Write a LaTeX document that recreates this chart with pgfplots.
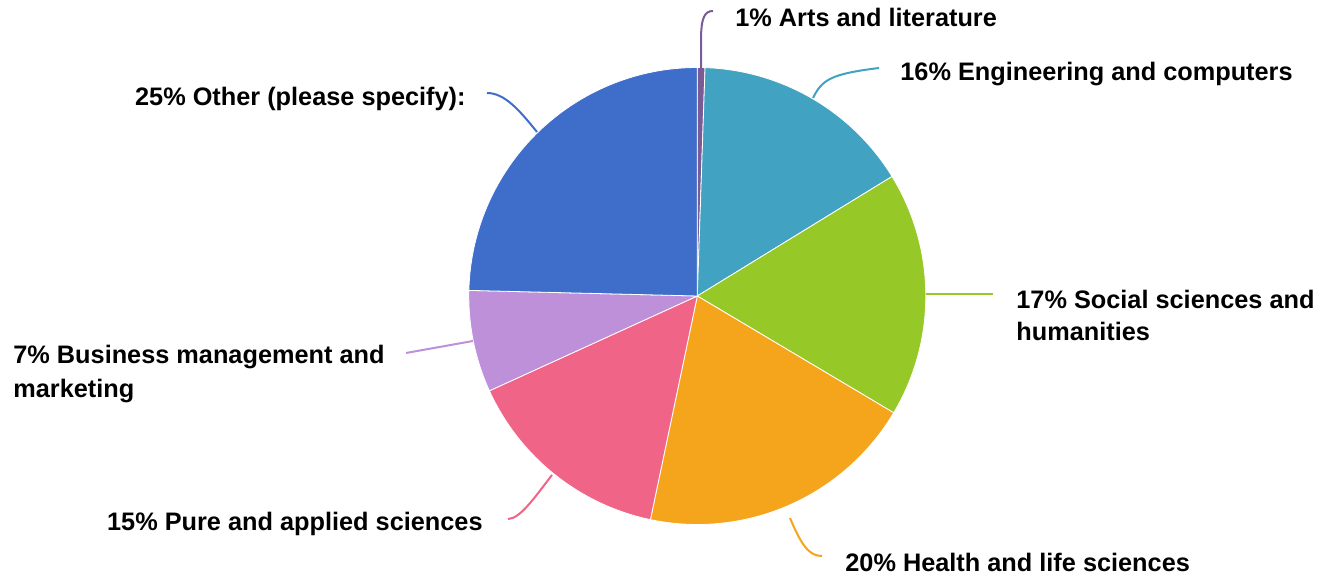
\documentclass[border=0pt]{standalone}
\usepackage{pgfplots}
\usepackage{pgfplotstable}
\pgfplotsset{compat=1.18}
\usepackage{fontspec}
\setmainfont{Liberation Sans}
\definecolor{slice0}{HTML}{7B5B95}
\definecolor{slice1}{HTML}{41A2C2}
\definecolor{slice2}{HTML}{96C928}
\definecolor{slice3}{HTML}{F5A51C}
\definecolor{slice4}{HTML}{F06487}
\definecolor{slice5}{HTML}{BF90DA}
\definecolor{slice6}{HTML}{3F6DCA}
\newcommand\lab{\fontsize{12.65}{16.3}\selectfont\bfseries}
% share of each field (percent), clockwise from 12 o'clock
\pgfplotstableread{
field pct
Arts 0.54
Engineering 15.70
Social 17.30
Health 19.75
Pure 14.90
Business 7.20
Other 24.61
}\piedata
\begin{document}
\begin{tikzpicture}
\begin{axis}[x=0.5pt, y=0.5pt, xmin=0, xmax=1328, ymin=0, ymax=577,
  hide axis, clip=false, scale only axis]
\path (axis cs:0,0) rectangle (axis cs:1328,577);
\def\cx{697.3}\def\cy{281}\def\rr{228.5}
\xdef\angstart{90}
\pgfplotsforeachungrouped \i in {0,...,6} {
  \pgfplotstablegetelem{\i}{pct}\of\piedata
  \pgfmathsetmacro\angend{\angstart - 3.6*\pgfplotsretval}
  \edef\cmd{\noexpand\addplot[fill=slice\i, draw=white, line width=0.4pt,
     domain=\angend:\angstart, samples=80]
     ({\cx+\rr*cos(x)},{\cy+\rr*sin(x)}) -- (axis cs:\cx,\cy) -- cycle;}
  \cmd
  \xdef\angstart{\angend}
}
% leader lines
\draw[slice0, line width=1pt] (axis cs:701,509) -- (axis cs:701,537) .. controls (axis cs:701,560) and (axis cs:705,566) .. (axis cs:713,566);
\draw[slice1, line width=1pt] (axis cs:813,479) .. controls (axis cs:822,497) and (axis cs:830,503) .. (axis cs:879,509);
\draw[slice2, line width=1pt] (axis cs:926,283) -- (axis cs:993,283);
\draw[slice3, line width=1pt] (axis cs:790,59) .. controls (axis cs:802,30) and (axis cs:810,21) .. (axis cs:822,21);
\draw[slice4, line width=1pt] (axis cs:552,102) .. controls (axis cs:535,80) and (axis cs:520,58) .. (axis cs:508,58);
\draw[slice5, line width=1pt] (axis cs:473,236) -- (axis cs:406,224);
\draw[slice6, line width=1pt] (axis cs:537,445) .. controls (axis cs:520,466) and (axis cs:505,484) .. (axis cs:487,484);
% labels
\node[anchor=west, font=\lab, inner sep=0pt] at (axis cs:735,560) {1\% Arts and literature};
\node[anchor=west, font=\lab, inner sep=0pt] at (axis cs:900,503) {16\% Engineering and computers};
\node[anchor=west, font=\lab, inner sep=0pt, align=left] at (axis cs:1016,261.5) {17\% Social sciences and\\humanities};
\node[anchor=west, font=\lab, inner sep=0pt] at (axis cs:845,15) {20\% Health and life sciences};
\node[anchor=east, font=\lab, inner sep=0pt] at (axis cs:483,53) {15\% Pure and applied sciences};
\node[anchor=west, font=\lab, inner sep=0pt, align=left] at (axis cs:13,203) {7\% Business management and\\[1pt]marketing};
\node[anchor=east, font=\lab, inner sep=0pt] at (axis cs:466,478) {25\% Other (please specify):};
\end{axis}
\end{tikzpicture}
\end{document}
